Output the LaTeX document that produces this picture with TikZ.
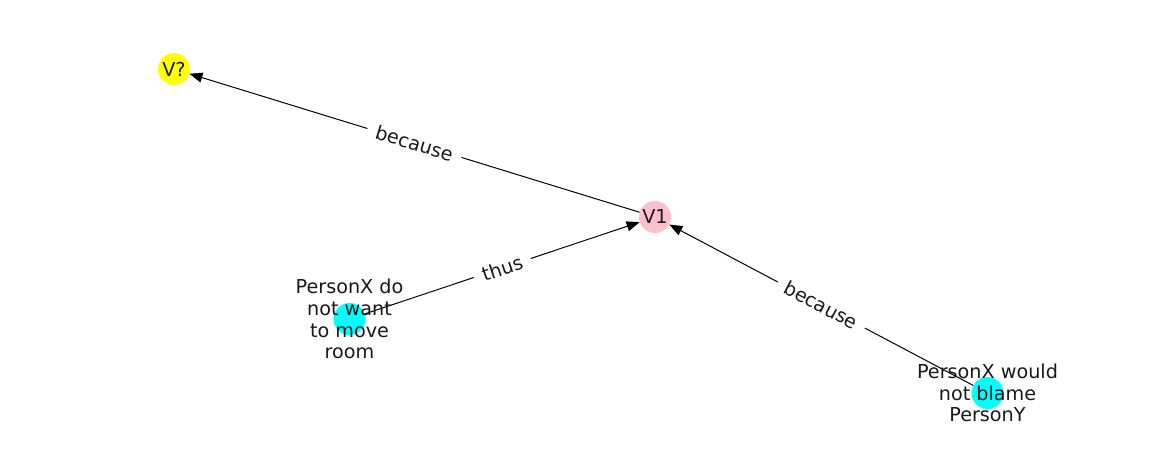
\documentclass[tikz,border=0pt]{standalone}
\usepackage{fontspec}
\setmainfont{DejaVu Sans}
\usetikzlibrary{arrows.meta}
\begin{document}
\begin{tikzpicture}[x=1pt,y=-1pt,
  vertex/.style={circle,minimum size=32pt,inner sep=0pt,draw=none},
  vlabel/.style={align=center,inner sep=0pt,font=\fontsize{19.2}{21.8}\selectfont,text=black!90},
  link/.style={draw=black,line width=1pt,-{Triangle[length=13pt,width=10pt]}},
  elabel/.style={fill=white,inner xsep=9pt,inner ysep=3pt,sloped,pos=0.5,font=\fontsize{19.2}{21.8}\selectfont,text=black!90}]
  \useasboundingbox[fill=white] (0,0) rectangle (1162,462);

  % vertices
  \node[vertex,fill={rgb,255:red,255;green,255;blue,0}] (vq) at (174,69) {};
  \node[vertex,fill={rgb,255:red,255;green,192;blue,203}] (v1) at (655,217) {};
  \node[vertex,fill={rgb,255:red,0;green,255;blue,255}] (px) at (349.5,319) {};
  \node[vertex,fill={rgb,255:red,0;green,255;blue,255}] (py) at (987.5,393) {};

  % connectors
  \draw[link] (v1) -- node[elabel] (e1) {because} (vq);
  \draw[link] (px) -- node[elabel] (e2) {thus} (v1);
  \draw[link] (py) -- node[elabel] (e3) {because} (v1);

  % vertex texts
  \node[vlabel] (tq) at (vq) {V?};
  \node[vlabel] (t1) at (v1) {V1};
  \node[vlabel] (tx) at (px) {PersonX do\\not want\\to move\\room};
  \node[vlabel] (ty) at (py) {PersonX would\\not blame\\PersonY};
\end{tikzpicture}
\end{document}
